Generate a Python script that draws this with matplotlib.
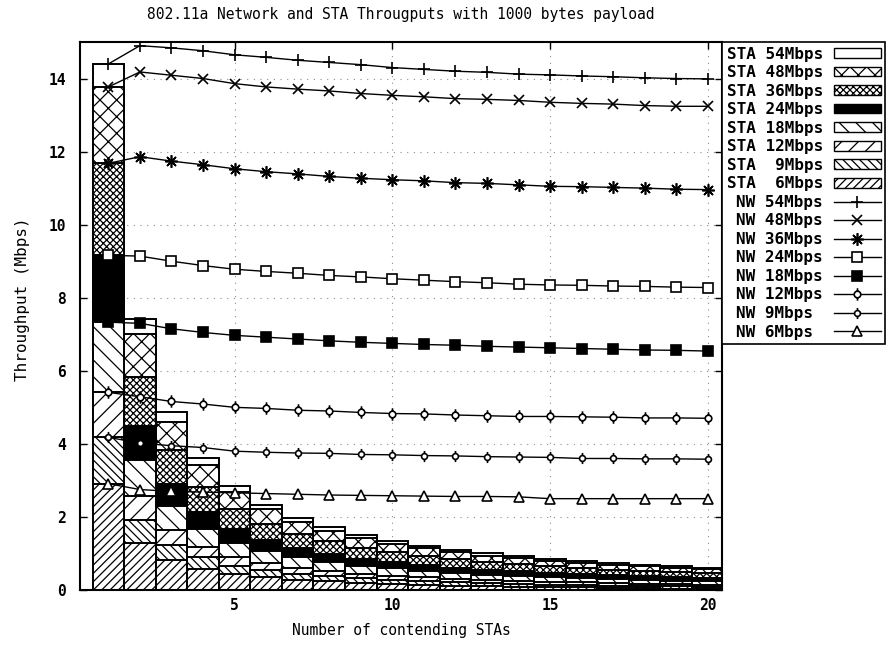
import matplotlib
matplotlib.use("Agg")
import matplotlib.pyplot as plt
from matplotlib.patches import Patch
from matplotlib.lines import Line2D
from matplotlib.path import Path

# number of contending stations
n_sta = list(range(1, 21))

# network throughput (Mbps) per PHY rate
nw_54 = [14.4, 14.9, 14.84, 14.76, 14.65, 14.58, 14.5, 14.44, 14.38, 14.3,
         14.25, 14.2, 14.17, 14.12, 14.1, 14.07, 14.05, 14.02, 14.0, 13.99]
nw_48 = [13.77, 14.18, 14.09, 14.0, 13.86, 13.77, 13.71, 13.66, 13.59, 13.54,
         13.5, 13.45, 13.43, 13.4, 13.35, 13.32, 13.3, 13.26, 13.24, 13.24]
nw_36 = [11.68, 11.86, 11.74, 11.64, 11.53, 11.45, 11.39, 11.32, 11.27, 11.23,
         11.2, 11.15, 11.13, 11.09, 11.05, 11.04, 11.02, 11.0, 10.97, 10.96]
nw_24 = [9.16, 9.14, 9.0, 8.88, 8.78, 8.72, 8.67, 8.61, 8.57, 8.52,
         8.48, 8.44, 8.41, 8.37, 8.35, 8.34, 8.32, 8.31, 8.29, 8.28]
nw_18 = [7.33, 7.3, 7.15, 7.05, 6.97, 6.92, 6.87, 6.82, 6.78, 6.75,
         6.72, 6.7, 6.67, 6.65, 6.63, 6.61, 6.59, 6.57, 6.56, 6.54]
nw_12 = [5.41, 5.29, 5.16, 5.09, 5.0, 4.97, 4.92, 4.9, 4.86, 4.83,
         4.82, 4.79, 4.77, 4.75, 4.75, 4.74, 4.73, 4.71, 4.71, 4.7]
nw_9 = [4.18, 4.02, 3.95, 3.9, 3.8, 3.77, 3.75, 3.74, 3.71, 3.7,
        3.68, 3.67, 3.65, 3.64, 3.63, 3.6, 3.6, 3.59, 3.59, 3.58]
nw_6 = [2.91, 2.75, 2.7, 2.68, 2.66, 2.64, 2.62, 2.6, 2.59, 2.58,
        2.57, 2.56, 2.56, 2.55, 2.5, 2.5, 2.5, 2.5, 2.5, 2.5]

# per-station throughput (Mbps) per PHY rate
sta_54 = [14.4, 7.42, 4.86, 3.6, 2.84, 2.34, 1.98, 1.72, 1.51, 1.34,
          1.21, 1.09, 1.0, 0.92, 0.85, 0.79, 0.74, 0.69, 0.65, 0.61]
sta_48 = [13.77, 7.0, 4.61, 3.41, 2.68, 2.21, 1.87, 1.62, 1.42, 1.26,
          1.14, 1.03, 0.94, 0.87, 0.8, 0.74, 0.69, 0.65, 0.61, 0.57]
sta_36 = [11.68, 5.84, 3.82, 2.82, 2.22, 1.82, 1.54, 1.33, 1.16, 1.03,
          0.93, 0.84, 0.77, 0.7, 0.65, 0.6, 0.56, 0.52, 0.49, 0.46]
sta_24 = [9.16, 4.48, 2.91, 2.13, 1.67, 1.36, 1.15, 0.99, 0.86, 0.76,
          0.68, 0.61, 0.56, 0.51, 0.47, 0.43, 0.4, 0.37, 0.35, 0.32]
sta_18 = [7.33, 3.56, 2.29, 1.67, 1.3, 1.06, 0.89, 0.76, 0.66, 0.59,
          0.52, 0.47, 0.42, 0.39, 0.35, 0.32, 0.3, 0.27, 0.26, 0.24]
sta_12 = [5.41, 2.56, 1.63, 1.18, 0.91, 0.74, 0.61, 0.52, 0.45, 0.39,
          0.35, 0.31, 0.28, 0.25, 0.23, 0.21, 0.19, 0.17, 0.16, 0.15]
sta_9 = [4.18, 1.92, 1.23, 0.89, 0.67, 0.54, 0.45, 0.38, 0.32, 0.28,
         0.24, 0.22, 0.19, 0.17, 0.15, 0.14, 0.12, 0.11, 0.1, 0.09]
sta_6 = [2.91, 1.29, 0.81, 0.58, 0.44, 0.35, 0.28, 0.24, 0.2, 0.17,
         0.14, 0.12, 0.11, 0.09, 0.08, 0.07, 0.06, 0.05, 0.04, 0.04]

rates = ["54", "48", "36", "24", "18", "12", "9", "6"]
sta_labels = ["STA 54Mbps", "STA 48Mbps", "STA 36Mbps", "STA 24Mbps",
              "STA 18Mbps", "STA 12Mbps", "STA  9Mbps", "STA  6Mbps"]
nw_labels = ["NW 54Mbps", "NW 48Mbps", "NW 36Mbps", "NW 24Mbps",
             "NW 18Mbps", "NW 12Mbps", "NW 9Mbps\u00a0", "NW 6Mbps\u00a0"]
sta_all = [sta_54, sta_48, sta_36, sta_24, sta_18, sta_12, sta_9, sta_6]
nw_all = [nw_54, nw_48, nw_36, nw_24, nw_18, nw_12, nw_9, nw_6]

# styling
hatches = {"54": "", "48": "xx", "36": "xxxxx", "24": "", "18": "\\\\",
           "12": "//", "9": "\\\\\\\\", "6": "////"}
faces = {"24": "black"}

ring_stem = Path.make_compound_path(
    Path.unit_circle(),
    Path([[0, -1.9], [0, -1], [0, 1], [0, 1.9]],
         [Path.MOVETO, Path.LINETO, Path.MOVETO, Path.LINETO]))

markers = {"54": ("+", 9, "none"), "48": ("x", 7, "none"),
           "36": ((8, 2, 0), 9, "none"), "24": ("s", 6.5, "white"),
           "18": ("s", 7, "black"), "12": (ring_stem, 9, "white"),
           "9": (ring_stem, 8, "white"), "6": ("^", 7, "white")}

font = "DejaVu Sans Mono"
plt.rcParams["font.family"] = font
plt.rcParams["font.weight"] = "bold"
plt.rcParams["hatch.linewidth"] = 0.9

fig = plt.figure(figsize=(8.91, 6.67), dpi=100)
ax = fig.add_axes([80 / 891, 1 - 590 / 667, 642 / 891, 548 / 667])

for r, vals in zip(rates, sta_all):
    ax.bar(n_sta, vals, width=1.0, color=faces.get(r, "white"),
           edgecolor="black", linewidth=1.4, hatch=hatches[r], zorder=2)

for r, vals in zip(rates, nw_all):
    m, ms, fc = markers[r]
    ax.plot(n_sta, vals, color="black", lw=1.0, marker=m, ms=ms,
            mfc=fc, mec="black", mew=1.2, zorder=3)

ax.set_xlim(0.1, 20.45)
ax.set_ylim(0, 15)
ax.set_xticks([5, 10, 15, 20])
ax.set_yticks(range(0, 15, 2))
ax.tick_params(direction="in", length=5, width=1, top=True, right=True,
               labelsize=10.5)
ax.tick_params(axis="x", pad=6)
ax.tick_params(axis="y", pad=10)
for s in ax.spines.values():
    s.set_linewidth(1.5)
ax.set_axisbelow(True)
ax.grid(True, color="0.55", linestyle=(0, (1, 5)), linewidth=0.8)

ax.text(0.5, (590 - 15) / 548, "802.11a Network and STA Througputs with 1000 bytes payload",
        transform=ax.transAxes, ha="center", va="center",
        fontsize=10.5, fontweight="normal")
ax.set_xlabel("Number of contending STAs", fontsize=10.5, fontweight="normal")
ax.xaxis.set_label_coords(0.5, -0.06)
ax.set_ylabel("Throughput (Mbps)", fontsize=11.5, fontweight="normal")
ax.yaxis.set_label_coords(-0.078, 0.53)

handles = []
labels = []
for r, lab in zip(rates, sta_labels):
    handles.append(Patch(facecolor=faces.get(r, "white"), edgecolor="black",
                         hatch=hatches[r], linewidth=1.0))
    labels.append(lab)
for r, lab in zip(rates, nw_labels):
    m, ms, fc = markers[r]
    handles.append(Line2D([], [], color="black", lw=1.0, marker=m, ms=ms,
                          mfc=fc, mec="black", mew=1.2))
    labels.append(lab)

leg = ax.legend(handles, labels, loc="upper left", bbox_to_anchor=(1.0, 1.0),
                borderaxespad=0, fancybox=False, framealpha=1, edgecolor="black",
                fontsize=11.5, markerfirst=False, handlelength=2.9,
                handleheight=0.55, labelspacing=0.22, borderpad=0.3,
                handletextpad=0.7)
leg.get_frame().set_linewidth(1.2)

fig.savefig("out.png", dpi=100)
